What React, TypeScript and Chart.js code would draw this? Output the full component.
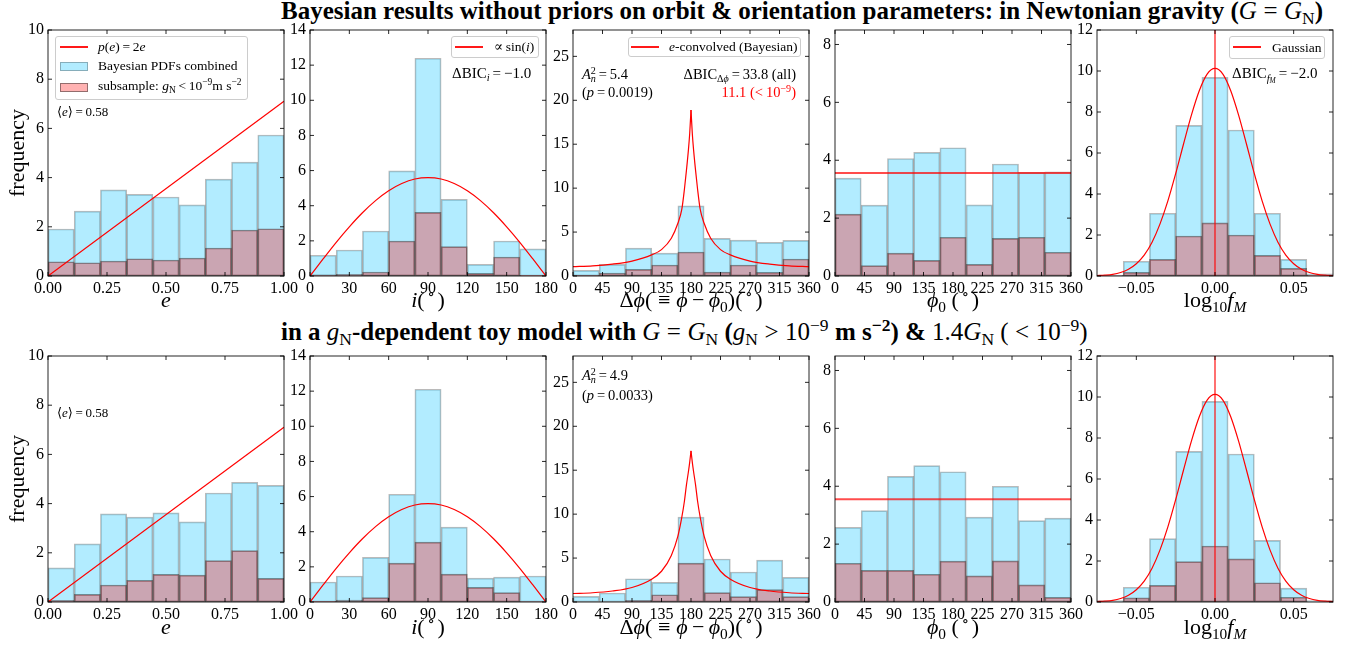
import React, { useEffect, useRef } from "react";
import { Chart, registerables } from "chart.js";

Chart.register(...registerables);

const SERIF = "'Liberation Serif', 'DejaVu Serif', 'Times New Roman', serif";

// ---------- histogram bins (centres) ----------
const eBinCenters = [0.05556, 0.16667, 0.27778, 0.38889, 0.5, 0.61111, 0.72222, 0.83333, 0.94444];
const incBinCenters = [10, 30, 50, 70, 90, 110, 130, 150, 170];
const angleBinCenters = [20, 60, 100, 140, 180, 220, 260, 300, 340];
const fmBinCenters = [-0.06667, -0.05, -0.03333, -0.01667, 0, 0.01667, 0.03333, 0.05, 0.06667];

// ---------- Newtonian gravity (top row) ----------
const eAllTop = [1.91, 2.64, 3.5, 3.32, 3.21, 2.89, 3.94, 4.63, 5.73];
const eSubTop = [0.58, 0.54, 0.61, 0.7, 0.65, 0.73, 1.14, 1.87, 1.92];
const incAllTop = [1.18, 1.48, 2.56, 5.98, 12.39, 4.36, 0.66, 1.99, 1.54];
const incSubTop = [0.06, 0.1, 0.23, 1.99, 3.62, 1.67, 0.15, 1.08, 0.04];
const dphiAllTop = [0.64, 1.33, 3.18, 2.61, 7.99, 4.28, 4.09, 3.83, 4.05];
const dphiSubTop = [0.11, 0.34, 0.76, 1.25, 2.73, 0.45, 1.25, 0.42, 1.93];
const phi0AllTop = [3.38, 2.45, 4.06, 4.27, 4.43, 2.46, 3.87, 3.58, 3.6];
const phi0SubTop = [2.14, 0.36, 0.79, 0.54, 1.34, 0.4, 1.3, 1.34, 0.82];
const fmAllTop = [0.05, 0.72, 3.06, 7.35, 9.69, 7.12, 3.06, 0.81, 0.1];
const fmSubTop = [0.02, 0.18, 0.81, 1.95, 2.59, 2.0, 1.01, 0.37, 0.03];

// ---------- g_N-dependent toy model (bottom row) ----------
const eAllBot = [1.39, 2.36, 3.58, 3.45, 3.62, 3.26, 4.43, 4.86, 4.74];
const eSubBot = [0.07, 0.31, 0.69, 0.88, 1.12, 1.09, 1.68, 2.09, 0.96];
const incAllBot = [1.14, 1.48, 2.54, 6.13, 12.11, 4.26, 1.36, 1.42, 1.48];
const incSubBot = [0.04, 0.11, 0.25, 2.21, 3.41, 1.59, 0.83, 0.53, 0.02];
const dphiAllBot = [0.64, 1.02, 2.65, 2.23, 9.66, 4.89, 3.41, 4.77, 2.8];
const dphiSubBot = [0.0, 0.0, 0.19, 0.83, 4.43, 1.06, 0.61, 1.4, 0.61];
const phi0AllBot = [2.58, 3.16, 4.34, 4.71, 4.5, 2.93, 4.0, 2.81, 2.9];
const phi0SubBot = [1.34, 1.09, 1.09, 0.96, 1.41, 0.9, 1.42, 0.59, 0.16];
const fmAllBot = [0.07, 0.72, 3.09, 7.35, 9.79, 7.22, 3.01, 0.68, 0.07];
const fmSubBot = [0.0, 0.2, 0.81, 1.97, 2.73, 2.1, 0.94, 0.23, 0.0];

// ---------- model curves ----------
const eLineX = [0, 1];
const eLineTop = [0, 7.1];
const eLineBot = [0, 7.1];

const sinX = [0, 10, 20, 30, 40, 50, 60, 70, 80, 90, 100, 110, 120, 130, 140, 150, 160, 170, 180];
const sinY = [0, 0.97, 1.92, 2.8, 3.6, 4.29, 4.85, 5.26, 5.52, 5.6, 5.52, 5.26, 4.85, 4.29, 3.6, 2.8, 1.92, 0.97, 0];

const dphiCurveX = [0, 30, 60, 90, 120, 135, 150, 160, 166, 170, 173, 176, 178, 180, 182, 184, 187, 190, 194, 200, 210, 225, 240, 270, 300, 330, 360];
const dphiCurveTop = [1.06, 1.15, 1.35, 1.7, 2.4, 3.0, 4.3, 6.0, 7.6, 9.9, 12.0, 14.3, 16.2, 18.9, 16.2, 14.3, 12.0, 9.9, 7.6, 6.0, 4.3, 3.0, 2.4, 1.7, 1.35, 1.15, 1.06];
const dphiCurveBot = [0.97, 1.05, 1.25, 1.65, 2.6, 3.5, 5.3, 7.5, 9.66, 11.5, 13.3, 14.8, 15.9, 17.2, 15.9, 14.8, 13.3, 11.5, 9.66, 7.5, 5.3, 3.5, 2.6, 1.65, 1.25, 1.05, 0.97];

const uniformX = [0, 360];
const uniformTop = [3.56, 3.56];
const uniformBot = [3.55, 3.55];

const gaussX = [-0.075, -0.07, -0.065, -0.06, -0.055, -0.05, -0.045, -0.04, -0.035, -0.03, -0.025, -0.02, -0.015, -0.01, -0.005, 0, 0.005, 0.01, 0.015, 0.02, 0.025, 0.03, 0.035, 0.04, 0.045, 0.05, 0.055, 0.06, 0.065, 0.07, 0.075];
const gaussY = [0.02, 0.04, 0.08, 0.17, 0.33, 0.6, 1.02, 1.65, 2.53, 3.65, 4.99, 6.44, 7.85, 9.04, 9.85, 10.13, 9.85, 9.04, 7.85, 6.44, 4.99, 3.65, 2.53, 1.65, 1.02, 0.6, 0.33, 0.17, 0.08, 0.04, 0.02];
const zeroLineX = [0, 0];
const zeroLineY = [0, 12];

// ---------- ticks ----------
const eTicks = [0, 0.25, 0.5, 0.75, 1];
const eTickLabels = ["0.00", "0.25", "0.50", "0.75", "1.00"];
const incTicks = [0, 30, 60, 90, 120, 150, 180];
const angleTicks = [0, 45, 90, 135, 180, 225, 270, 315, 360];
const fmTicks = [-0.05, 0, 0.05];
const fmTickLabels = ["\u22120.05", "0.00", "0.05"];
const eYTicks = [0, 2, 4, 6, 8, 10];
const incYTicks = [0, 2, 4, 6, 8, 10, 12, 14];
const dphiYTicks = [0, 5, 10, 15, 20, 25];
const phi0YTicks = [0, 2, 4, 6, 8];
const fmYTicks = [0, 2, 4, 6, 8, 10, 12];

// ---------- layout ----------
const COL_LEFT = [48, 310, 573, 835, 1097];
const ROW_TOP = [30, 356];
const PLOT_W = 236;
const PLOT_H = 246;
const PAD_L = 46;
const PAD_R = 34;
const PAD_T = 14;
const PAD_B = 34;

const BLUE_FILL = "rgba(0,191,255,0.3)";
const BLUE_EDGE = "rgba(40,40,40,0.32)";
const RED_FILL = "rgba(255,0,0,0.3)";
const RED_EDGE = "rgba(40,40,40,0.5)";

type Curve = { x: number[]; y: number[]; color: string; width: number; smooth?: boolean; splitAtPeak?: boolean };
type Spec = {
  col: number;
  row: number;
  xMin: number;
  xMax: number;
  xTicks: number[];
  xTickLabels?: string[];
  yMax: number;
  yTicks: number[];
  centers: number[];
  all: number[];
  sub: number[];
  curves: Curve[];
};

const specs: Spec[] = [
  { col: 0, row: 0, xMin: 0, xMax: 1, xTicks: eTicks, xTickLabels: eTickLabels, yMax: 10, yTicks: eYTicks, centers: eBinCenters, all: eAllTop, sub: eSubTop,
    curves: [{ x: eLineX, y: eLineTop, color: "#ff0000", width: 1.2 }] },
  { col: 1, row: 0, xMin: 0, xMax: 180, xTicks: incTicks, yMax: 14, yTicks: incYTicks, centers: incBinCenters, all: incAllTop, sub: incSubTop,
    curves: [{ x: sinX, y: sinY, color: "#ff0000", width: 1.2, smooth: true }] },
  { col: 2, row: 0, xMin: 0, xMax: 360, xTicks: angleTicks, yMax: 28, yTicks: dphiYTicks, centers: angleBinCenters, all: dphiAllTop, sub: dphiSubTop,
    curves: [{ x: dphiCurveX, y: dphiCurveTop, color: "#ff0000", width: 1.2, smooth: true, splitAtPeak: true }] },
  { col: 3, row: 0, xMin: 0, xMax: 360, xTicks: angleTicks, yMax: 8.5, yTicks: phi0YTicks, centers: angleBinCenters, all: phi0AllTop, sub: phi0SubTop,
    curves: [{ x: uniformX, y: uniformTop, color: "rgba(255,0,0,0.7)", width: 2 }] },
  { col: 4, row: 0, xMin: -0.075, xMax: 0.075, xTicks: fmTicks, xTickLabels: fmTickLabels, yMax: 12, yTicks: fmYTicks, centers: fmBinCenters, all: fmAllTop, sub: fmSubTop,
    curves: [
      { x: gaussX, y: gaussY, color: "#ff0000", width: 1.2, smooth: true },
      { x: zeroLineX, y: zeroLineY, color: "rgba(255,0,0,0.7)", width: 1.6 },
    ] },
  { col: 0, row: 1, xMin: 0, xMax: 1, xTicks: eTicks, xTickLabels: eTickLabels, yMax: 10, yTicks: eYTicks, centers: eBinCenters, all: eAllBot, sub: eSubBot,
    curves: [{ x: eLineX, y: eLineBot, color: "#ff0000", width: 1.2 }] },
  { col: 1, row: 1, xMin: 0, xMax: 180, xTicks: incTicks, yMax: 14, yTicks: incYTicks, centers: incBinCenters, all: incAllBot, sub: incSubBot,
    curves: [{ x: sinX, y: sinY, color: "#ff0000", width: 1.2, smooth: true }] },
  { col: 2, row: 1, xMin: 0, xMax: 360, xTicks: angleTicks, yMax: 28, yTicks: dphiYTicks, centers: angleBinCenters, all: dphiAllBot, sub: dphiSubBot,
    curves: [{ x: dphiCurveX, y: dphiCurveBot, color: "#ff0000", width: 1.2, smooth: true, splitAtPeak: true }] },
  { col: 3, row: 1, xMin: 0, xMax: 360, xTicks: angleTicks, yMax: 8.5, yTicks: phi0YTicks, centers: angleBinCenters, all: phi0AllBot, sub: phi0SubBot,
    curves: [{ x: uniformX, y: uniformBot, color: "rgba(255,0,0,0.7)", width: 2 }] },
  { col: 4, row: 1, xMin: -0.075, xMax: 0.075, xTicks: fmTicks, xTickLabels: fmTickLabels, yMax: 12, yTicks: fmYTicks, centers: fmBinCenters, all: fmAllBot, sub: fmSubBot,
    curves: [
      { x: gaussX, y: gaussY, color: "#ff0000", width: 1.2, smooth: true },
      { x: zeroLineX, y: zeroLineY, color: "rgba(255,0,0,0.7)", width: 1.6 },
    ] },
];

// Axes box with inward tick marks on all four sides
const framePlugin = {
  id: "frameTicks",
  afterDatasetsDraw(chart: any) {
    const { ctx, chartArea: a, scales } = chart;
    const xs = scales.x;
    const ys = scales.y;
    const len = 4;
    ctx.save();
    ctx.strokeStyle = "rgba(0,0,0,0.85)";
    ctx.lineWidth = 1;
    ctx.beginPath();
    xs.ticks.forEach((t: any) => {
      const px = xs.getPixelForValue(t.value);
      ctx.moveTo(px, a.bottom);
      ctx.lineTo(px, a.bottom - len);
      ctx.moveTo(px, a.top);
      ctx.lineTo(px, a.top + len);
    });
    ys.ticks.forEach((t: any) => {
      const py = ys.getPixelForValue(t.value);
      ctx.moveTo(a.left, py);
      ctx.lineTo(a.left + len, py);
      ctx.moveTo(a.right, py);
      ctx.lineTo(a.right - len, py);
    });
    ctx.stroke();
    ctx.strokeRect(a.left, a.top, a.right - a.left, a.bottom - a.top);
    ctx.restore();
  },
};

function buildDatasets(s: Spec) {
  const ds: any[] = [];
  s.curves.forEach((c) => {
    const pts = c.x.map((x, i) => ({ x, y: c.y[i] }));
    let parts = [pts];
    if (c.splitAtPeak) {
      const k = c.y.indexOf(Math.max(...c.y));
      parts = [pts.slice(0, k + 1), pts.slice(k)];
    }
    parts.forEach((p) =>
      ds.push({
        type: "line",
        data: p,
        borderColor: c.color,
        borderWidth: c.width,
        pointRadius: 0,
        fill: false,
        tension: 0,
        cubicInterpolationMode: c.smooth ? "monotone" : "default",
        order: 0,
      })
    );
  });
  ds.push({
    type: "bar",
    data: s.centers.map((x, i) => ({ x, y: s.sub[i] })),
    backgroundColor: RED_FILL,
    borderColor: RED_EDGE,
    borderWidth: 1,
    borderSkipped: false,
    grouped: false,
    barPercentage: 1,
    categoryPercentage: 1,
    order: 1,
  });
  ds.push({
    type: "bar",
    data: s.centers.map((x, i) => ({ x, y: s.all[i] })),
    backgroundColor: BLUE_FILL,
    borderColor: BLUE_EDGE,
    borderWidth: 1,
    borderSkipped: false,
    grouped: false,
    barPercentage: 1,
    categoryPercentage: 1,
    order: 2,
  });
  return ds;
}

function Panel({ spec }: { spec: Spec }) {
  const ref = useRef<HTMLCanvasElement | null>(null);
  useEffect(() => {
    if (!ref.current) return;
    const tickFont = { family: SERIF, size: 16 };
    const chart = new Chart(ref.current, {
      type: "bar",
      data: { datasets: buildDatasets(spec) },
      options: {
        animation: false,
        responsive: false,
        events: [],
        layout: { padding: { top: PAD_T, right: PAD_R, left: 0, bottom: 0 } },
        plugins: { legend: { display: false }, tooltip: { enabled: false } },
        scales: {
          x: {
            type: "linear",
            min: spec.xMin,
            max: spec.xMax,
            offset: false,
            grid: { display: false, drawTicks: false },
            border: { display: false },
            afterBuildTicks: (sc: any) => {
              sc.ticks = spec.xTicks.map((v) => ({ value: v }));
            },
            afterFit: (sc: any) => {
              sc.height = PAD_B;
            },
            ticks: {
              autoSkip: false,
              maxRotation: 0,
              minRotation: 0,
              padding: 3,
              color: "#000",
              font: tickFont,
              callback: (v: any, i: number) => (spec.xTickLabels ? spec.xTickLabels[i] : String(v)),
            },
          },
          y: {
            type: "linear",
            min: 0,
            max: spec.yMax,
            grid: { display: false, drawTicks: false },
            border: { display: false },
            afterBuildTicks: (sc: any) => {
              sc.ticks = spec.yTicks.map((v) => ({ value: v }));
            },
            afterFit: (sc: any) => {
              sc.width = PAD_L;
            },
            ticks: { padding: 4, color: "#000", font: tickFont, callback: (v: any) => String(v) },
          },
        },
      } as any,
      plugins: [framePlugin],
    } as any);
    return () => chart.destroy();
  }, [spec]);
  const w = PAD_L + PLOT_W + PAD_R;
  const h = PAD_T + PLOT_H + PAD_B;
  return (
    <canvas
      ref={ref}
      width={w}
      height={h}
      style={{ position: "absolute", left: COL_LEFT[spec.col] - PAD_L, top: ROW_TOP[spec.row] - PAD_T, width: w, height: h, display: "block" }}
    />
  );
}

// ---------- text helpers ----------
const Sub = ({ children }: any) => <span style={{ fontSize: "0.7em", verticalAlign: "-0.3em", lineHeight: 0 }}>{children}</span>;
const Sup = ({ children }: any) => <span style={{ fontSize: "0.7em", verticalAlign: "0.5em", lineHeight: 0 }}>{children}</span>;
const I = ({ children }: any) => <span style={{ fontStyle: "italic" }}>{children}</span>;
const B = ({ children }: any) => <span style={{ fontWeight: "bold" }}>{children}</span>;
// relation / binary operator with math spacing
const Rel = ({ children }: any) => <span style={{ margin: "0 0.26em", fontWeight: "normal" }}>{children}</span>;
const Bin = ({ children }: any) => <span style={{ margin: "0 0.2em" }}>{children}</span>;
const EQ = "\u2009=\u2009";

function Label({ x, base, size, align = "left", color = "#000", children }: any) {
  const tx = align === "center" ? "translateX(-50%)" : align === "right" ? "translateX(-100%)" : "none";
  return (
    <div
      style={{
        position: "absolute",
        left: x,
        top: base - 0.84 * size,
        fontSize: size,
        lineHeight: `${size}px`,
        fontFamily: SERIF,
        color,
        whiteSpace: "nowrap",
        transform: tx,
      }}
    >
      {children}
    </div>
  );
}

function Box({ x, y, w, h }: any) {
  return (
    <div
      style={{
        position: "absolute",
        left: x,
        top: y,
        width: w,
        height: h,
        boxSizing: "border-box",
        border: "1px solid #cccccc",
        borderRadius: 3,
        background: "rgba(255,255,255,0.8)",
      }}
    />
  );
}

function LineHandle({ x, y }: any) {
  return <div style={{ position: "absolute", left: x, top: y, width: 28, height: 2, background: "rgba(255,0,0,0.9)" }} />;
}

function Patch({ x, y, fill, edge }: any) {
  return (
    <div style={{ position: "absolute", left: x, top: y, width: 28, height: 9, boxSizing: "border-box", background: fill, border: `1px solid ${edge}` }} />
  );
}

const panelCenters = COL_LEFT.map((l) => l + PLOT_W / 2);

const Deg = () => (
  <>
    (<span style={{ margin: "0 0.12em" }}>
      <Sup>{"\u2218"}</Sup>
    </span>
    )
  </>
);

function AxisTitles({ base }: { base: number }) {
  const size = 22;
  return (
    <>
      <Label x={panelCenters[0]} base={base} size={size} align="center">
        <I>e</I>
      </Label>
      <Label x={panelCenters[1]} base={base} size={size} align="center">
        <I>i</I>
        <Deg />
      </Label>
      <Label x={panelCenters[2]} base={base} size={size} align="center">
        {"\u0394"}
        <I>{"\u03D5"}</I>(<Rel>{"\u2261"}</Rel>
        <I>{"\u03D5"}</I>
        <Bin>{"\u2212"}</Bin>
        <I>{"\u03D5"}</I>
        <Sub>0</Sub>)<Deg />
      </Label>
      <Label x={panelCenters[3]} base={base} size={size} align="center">
        <I>{"\u03D5"}</I>
        <Sub>0</Sub> <Deg />
      </Label>
      <Label x={panelCenters[4]} base={base} size={size} align="center">
        log<Sub>10</Sub>
        <I>f</I>
        <Sub>
          <I>M</I>
        </Sub>
      </Label>
    </>
  );
}

function YTitle({ cy }: { cy: number }) {
  return (
    <div
      style={{
        position: "absolute",
        left: 17,
        top: cy,
        transform: "translate(-50%, -50%) rotate(-90deg)",
        fontFamily: SERIF,
        fontSize: 22,
        lineHeight: "22px",
        whiteSpace: "nowrap",
      }}
    >
      frequency
    </div>
  );
}

export default function App() {
  return (
    <div style={{ position: "absolute", left: 0, top: 0, width: 1348, height: 646, background: "#fff", overflow: "hidden" }}>
      {/* row titles */}
      <Label x={281} base={19} size={25}>
        <B>Bayesian results without priors on orbit &amp; orientation parameters: in Newtonian gravity (</B>
        <I>G</I>
        <Rel>=</Rel>
        <I>G</I>
        <Sub>N</Sub>
        <B>)</B>
      </Label>
      <Label x={281} base={340} size={25}>
        <B>in a </B>
        <I>g</I>
        <Sub>N</Sub>
        <B>-dependent toy model with </B>
        <I>G</I>
        <Rel>=</Rel>
        <I>G</I>
        <Sub>N</Sub> <B>(</B>
        <I>g</I>
        <Sub>N</Sub>
        <Rel>{">"}</Rel>10<Sup>{"\u22129"}</Sup>{" "}
        <B>
          m s<Sup>{"\u22122"}</Sup>) &amp;{" "}
        </B>
        1.4<I>G</I>
        <Sub>N</Sub> (<Rel>{"<"}</Rel>10<Sup>{"\u22129"}</Sup>)
      </Label>

      {specs.map((s, i) => (
        <Panel key={i} spec={s} />
      ))}

      <YTitle cy={ROW_TOP[0] + PLOT_H / 2} />
      <YTitle cy={ROW_TOP[1] + PLOT_H / 2} />
      <AxisTitles base={307} />
      <AxisTitles base={634} />

      {/* top-left legend */}
      <Box x={55} y={36} w={193} h={64} />
      <LineHandle x={60} y={46} />
      <Label x={98} base={51.5} size={13.5}>
        <I>p</I>(<I>e</I>){EQ}2<I>e</I>
      </Label>
      <Patch x={60} y={62} fill={BLUE_FILL} edge={BLUE_EDGE} />
      <Label x={98} base={70.5} size={13.5}>
        Bayesian PDFs combined
      </Label>
      <Patch x={60} y={82.5} fill={RED_FILL} edge={RED_EDGE} />
      <Label x={98} base={90.5} size={13.5}>
        subsample: <I>g</I>
        <Sub>N</Sub>
        {"\u2009<\u2009"}10<Sup>{"\u22129"}</Sup>m s<Sup>{"\u22122"}</Sup>
      </Label>
      <Label x={57} base={116} size={13}>
        {"\u27E8"}
        <I>e</I>
        {"\u27E9"}
        {EQ}0.58
      </Label>

      {/* inclination panel */}
      <Box x={451} y={36} w={88} h={22} />
      <LineHandle x={455} y={46} />
      <Label x={494} base={51.5} size={13.5}>
        {"\u221D\u2009"}sin(<I>i</I>)
      </Label>
      <Label x={452} base={79} size={15}>
        {"\u0394"}BIC
        <Sub>
          <I>i</I>
        </Sub>
        {EQ}
        {"\u2212"}1.0
      </Label>

      {/* delta-phi panel */}
      <Box x={628} y={37} w={173} h={20} />
      <LineHandle x={631} y={46} />
      <Label x={669} base={51.5} size={13.5}>
        <I>e</I>-convolved (Bayesian)
      </Label>
      <Label x={582} base={79.5} size={14.5}>
        <I>A</I>
        <Sup>2</Sup>
        <span style={{ marginLeft: "-0.36em" }}>
          <Sub>
            <I>n</I>
          </Sub>
        </span>
        {EQ}5.4
      </Label>
      <Label x={582} base={97.5} size={14.5}>
        (<I>p</I>
        {EQ}0.0019)
      </Label>
      <Label x={796} base={79.5} size={14.5} align="right">
        {"\u0394"}BIC
        <Sub>
          {"\u0394"}
          <I>{"\u03D5"}</I>
        </Sub>
        {EQ}33.8 (all)
      </Label>
      <Label x={796} base={97.5} size={14.5} align="right" color="#ff0000">
        11.1 ({"<\u2009"}10<Sup>{"\u22129"}</Sup>)
      </Label>

      {/* log f_M panel */}
      <Box x={1229} y={36} w={96} h={23} />
      <LineHandle x={1233} y={46} />
      <Label x={1272} base={52} size={13.5}>
        Gaussian
      </Label>
      <Label x={1232} base={79} size={15}>
        {"\u0394"}BIC
        <Sub>
          <I>f</I>
          <span style={{ fontSize: "0.7em", verticalAlign: "-0.2em" }}>
            <I>M</I>
          </span>
        </Sub>
        {EQ}
        {"\u2212"}2.0
      </Label>

      {/* bottom row annotations */}
      <Label x={57} base={417} size={13}>
        {"\u27E8"}
        <I>e</I>
        {"\u27E9"}
        {EQ}0.58
      </Label>
      <Label x={582} base={380} size={14.5}>
        <I>A</I>
        <Sup>2</Sup>
        <span style={{ marginLeft: "-0.36em" }}>
          <Sub>
            <I>n</I>
          </Sub>
        </span>
        {EQ}4.9
      </Label>
      <Label x={582} base={400} size={14.5}>
        (<I>p</I>
        {EQ}0.0033)
      </Label>
    </div>
  );
}
